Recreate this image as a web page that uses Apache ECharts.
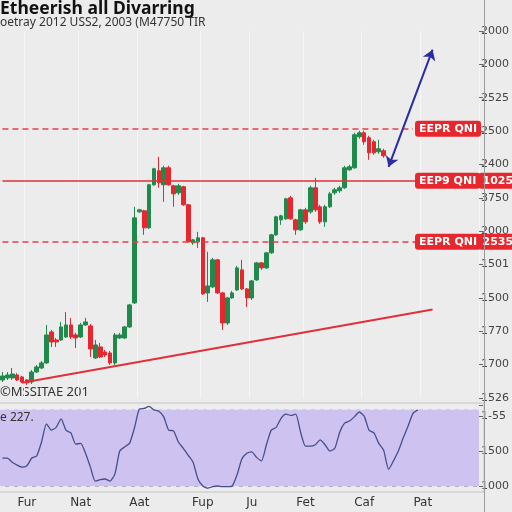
<!DOCTYPE html>
<html>
<head>
<meta charset="utf-8">
<script src="https://cdn.jsdelivr.net/npm/echarts@6/dist/echarts.min.js"></script>
<style>
  html, body { margin: 0; padding: 0; background: #ececec; }
  #chart { width: 512px; height: 512px; }
</style>
</head>
<body>
<div id="chart"></div>
<script>
// candles: [open, close, low, high]
const candles = [
  [1054,1066,1048,1078],[1060,1069,1054,1078],[1060,1072,1054,1090],[1069,1054,1051,1075],
  [1063,1048,1045,1066],[1054,1045,1039,1057],[1048,1078,1042,1084],[1078,1093,1075,1099],
  [1090,1105,1087,1111],[1105,1189,1102,1219],[1198,1168,1153,1204],[1174,1168,1153,1180],
  [1174,1213,1171,1228],[1183,1219,1180,1258],[1219,1183,1177,1240],[1189,1180,1150,1195],
  [1183,1219,1180,1225],[1219,1228,1216,1240],[1216,1147,1123,1222],[1120,1159,1117,1174],
  [1153,1123,1120,1165],[1138,1129,1123,1144],[1135,1105,1099,1141],[1105,1189,1099,1195],
  [1180,1189,1177,1195],[1180,1213,1177,1216],[1213,1279,1210,1282],[1285,1540,1282,1573],
  [1558,1564,1555,1567],[1561,1510,1489,1564],[1510,1639,1507,1642],[1639,1687,1636,1690],
  [1681,1645,1630,1723],[1639,1690,1588,1696],[1690,1639,1636,1696],[1636,1612,1573,1639],
  [1615,1636,1609,1642],[1633,1579,1576,1636],[1579,1468,1465,1582],[1465,1474,1459,1477],
  [1468,1480,1450,1498],[1480,1312,1309,1483],[1315,1336,1288,1438],[1333,1414,1330,1420],
  [1414,1315,1312,1417],[1315,1225,1204,1318],[1225,1300,1219,1303],[1300,1315,1297,1321],
  [1324,1390,1321,1396],[1384,1327,1324,1414],[1327,1300,1273,1330],[1300,1351,1294,1354],
  [1354,1405,1351,1408],[1405,1390,1384,1408],[1390,1435,1387,1438],[1435,1489,1432,1492],
  [1489,1543,1486,1546],[1534,1546,1519,1549],[1537,1597,1534,1600],[1600,1537,1534,1606],
  [1534,1504,1489,1537],[1504,1564,1501,1567],[1564,1528,1522,1570],[1558,1630,1552,1636],
  [1630,1564,1558,1660],[1573,1528,1522,1579],[1528,1573,1513,1579],[1573,1612,1570,1618],
  [1615,1624,1609,1630],[1621,1630,1615,1636],[1630,1690,1627,1696],[1684,1693,1681,1699],
  [1690,1789,1687,1795],[1783,1795,1777,1801],[1795,1768,1759,1801],[1780,1735,1714,1786],
  [1768,1735,1729,1774],[1738,1747,1732,1774],[1741,1726,1720,1747]
];

// oscillator values for the lower pane
const osc = [
  40,40,34,30,27,29,40,43,63,89,80,84,96,80,76,60,61,47,27,7,
  9,10,7,17,50,56,61,83,110,111,114,109,107,99,80,79,63,54,44,34,
  10,0,-3,-1,0,-1,-1,0,16,39,47,49,41,36,59,80,84,97,103,101,
  103,77,57,57,59,66,59,50,54,77,90,93,99,106,100,80,76,61,51,24,
  36,50,69,86,104,109
];

const dayCount = 98;
const xTickIndex = [5, 16, 28, 41, 51, 62, 74, 86];
const xTickText = ['Fur', 'Nat', 'Aat', 'Fup', 'Ju', 'Fet', 'Caf', 'Pat'];
const priceTicks = ['1526','1700','1770','1500','1501','2000','3750','2400','2500','2525','2000','2000'];
const oscTicks = { 0: '1000', 50: '1500', 100: '1-55' };

const levelTop = 1807;
const levelMid = 1651;
const levelLow = 1468;
const trendStart = [4, 1046];
const trendEnd = [88, 1265];
const arrowStart = [79, 1693];
const arrowEnd = [88, 2044];

const days = [];
for (let i = 0; i < dayCount; i++) days.push('d' + i);
const labelMap = {};
xTickIndex.forEach((idx, k) => { labelMap[idx] = xTickText[k]; });
const showTick = (index) => labelMap[index] !== undefined;

const red = '#e8262d';
const green = '#1f8a4c';

const boxLabel = (text) => ({
    show: true,
    position: 'end',
    distance: 2,
    formatter: text,
    color: '#fff',
    fontSize: 11,
    fontWeight: 'bold',
    fontFamily: 'DejaVu Sans',
    backgroundColor: red,
    padding: [3, 4, 2, 4],
    borderRadius: 3
});

const chart = echarts.init(document.getElementById('chart'));
chart.setOption({
    animation: false,
    backgroundColor: '#ececec',
    textStyle: { fontFamily: 'DejaVu Sans' },
    grid: [
        { left: 0, right: 28, top: 31, bottom: 114 },
        { left: 0, right: 28, top: 405, bottom: 26 }
    ],
    xAxis: [{
        type: 'category',
        gridIndex: 0,
        data: days,
        axisLine: { show: false },
        axisTick: { show: false },
        axisLabel: { show: false },
        splitLine: { show: true, interval: showTick, lineStyle: { color: '#f6f6f6', width: 1 } }
    }, {
        type: 'category',
        gridIndex: 1,
        data: days,
        offset: 6,
        axisLine: { lineStyle: { color: '#b5b5b5' } },
        axisTick: { interval: showTick, alignWithLabel: true, length: 4, lineStyle: { color: '#999' } },
        axisLabel: {
            interval: showTick,
            formatter: (v, i) => labelMap[i] || '',
            color: '#333',
            fontSize: 12,
            margin: 5
        },
        splitLine: { show: false }
    }],
    yAxis: [{
        type: 'value',
        gridIndex: 0,
        position: 'right',
        min: 1000,
        max: 2100,
        interval: 100,
        axisLine: { show: false },
        axisTick: { show: true, length: 4, lineStyle: { color: '#666' } },
        axisLabel: {
            color: '#444',
            fontSize: 11,
            margin: 2,
            formatter: (v) => priceTicks[Math.round((v - 1000) / 100)] || ''
        },
        splitLine: { show: false }
    }, {
        type: 'value',
        gridIndex: 1,
        position: 'right',
        min: 0,
        max: 116,
        interval: 50,
        axisLine: { show: false },
        axisTick: { show: true, length: 4, lineStyle: { color: '#666' } },
        axisLabel: {
            color: '#444',
            fontSize: 11,
            margin: 2,
            formatter: (v) => oscTicks[v] || ''
        },
        splitLine: { show: false }
    }],
    graphic: [
        { type: 'line', shape: { x1: 484.5, y1: 0, x2: 484.5, y2: 512 }, style: { stroke: '#9a9a9a', lineWidth: 1 }, z: 10 },
        { type: 'rect', shape: { x: -1, y: 403, width: 485, height: 89 }, style: { fill: 'none', stroke: '#c4c4c4', lineWidth: 1 }, z: 1 },
        { type: 'text', left: 0, top: 0, style: { text: 'Etheerish all Divarring', fontSize: 17.5, fontWeight: 'bold', fontFamily: 'Noto Sans', fill: '#111' } },
        { type: 'text', left: 0, top: 17, style: { text: 'oetray 2012 USS2, 2003 (M47750 TIR', fontSize: 12, fontFamily: 'Noto Sans', fill: '#333' } },
        { type: 'text', left: 0, top: 386, style: { text: '©MSSITAE 201', fontSize: 13, fontFamily: 'Noto Sans', fill: '#333' } },
        { type: 'text', left: 0, top: 412, style: { text: 'e 227.', fontSize: 12, fontFamily: 'Noto Sans', fill: '#333' }, z: 20 }
    ],
    series: [{
        type: 'candlestick',
        xAxisIndex: 0,
        yAxisIndex: 0,
        data: candles,
        barWidth: '85%',
        itemStyle: {
            color: green,
            color0: red,
            borderColor: green,
            borderColor0: red,
            borderWidth: 1
        },
        markLine: {
            silent: true,
            symbol: 'none',
            animation: false,
            data: [
                [{ coord: [0, levelTop], lineStyle: { type: [6, 4], color: '#e0424a', width: 1.5 }, label: boxLabel('EEPR QNI') },
                 { coord: [84, levelTop] }],
                [{ coord: [0, levelMid], lineStyle: { type: 'solid', color: '#e0303a', width: 1.5 }, label: boxLabel('EEP9 QNI') },
                 { coord: [84, levelMid] }],
                [{ coord: [84, levelMid], lineStyle: { type: 'solid', color: '#e0303a', width: 1.5 }, label: boxLabel('1025') },
                 { coord: [97, levelMid] }],
                [{ coord: [0, levelLow], lineStyle: { type: [6, 4], color: '#e0424a', width: 1.5 }, label: boxLabel('EEPR QNI') },
                 { coord: [84, levelLow] }],
                [{ coord: [84, levelLow], lineStyle: { type: 'solid', color: '#e0303a', width: 1.5 }, label: boxLabel('2535') },
                 { coord: [97, levelLow] }],
                [{ coord: trendStart, lineStyle: { type: 'solid', color: '#e0303a', width: 2 }, label: { show: false } },
                 { coord: trendEnd }],
                [{ coord: arrowStart, symbol: 'arrow', symbolSize: 10, lineStyle: { type: 'solid', color: '#2a2ea0', width: 2 }, label: { show: false } },
                 { coord: arrowEnd, symbol: 'arrow', symbolSize: 10 }]
            ]
        }
    }, {
        type: 'line',
        xAxisIndex: 1,
        yAxisIndex: 1,
        data: osc,
        showSymbol: false,
        clip: false,
        smooth: 0.2,
        lineStyle: { color: '#454f8c', width: 1.3 },
        z: 5,
        markArea: {
            silent: true,
            itemStyle: { color: '#cdc2f0' },
            data: [[{ yAxis: -1 }, { yAxis: 110 }]]
        },
        markLine: {
            silent: true,
            symbol: 'none',
            label: { show: false },
            lineStyle: { type: [5, 4], color: '#e9e3fb', width: 1.2 },
            data: [{ yAxis: 110 }, { yAxis: 0 }]
        }
    }]
});
</script>
</body>
</html>
